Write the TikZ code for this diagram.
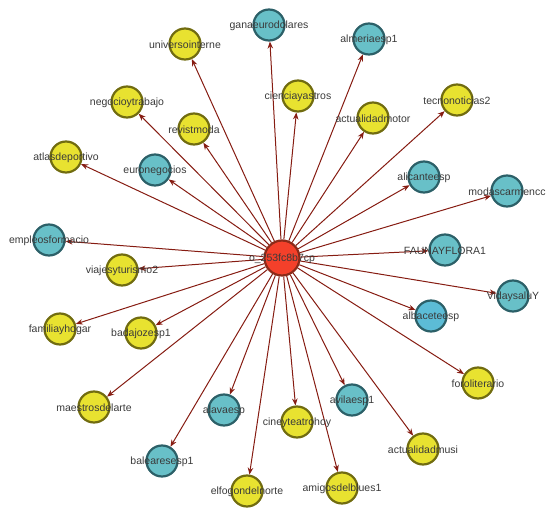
\documentclass[tikz,border=0pt]{standalone}
\usepackage{fontspec}
\setmainfont{Liberation Sans}
\usetikzlibrary{arrows.meta}
\pgfdeclarelayer{background}
\pgfsetlayers{background,main}
\definecolor{yfill}{HTML}{E8E230}
\definecolor{ydraw}{HTML}{716C10}
\definecolor{tfill}{HTML}{68C0C8}
\definecolor{tdraw}{HTML}{2C6068}
\definecolor{bfill}{HTML}{5CBCD6}
\definecolor{rfill}{HTML}{F4402A}
\definecolor{rdraw}{HTML}{8C2A18}
\definecolor{edgec}{HTML}{861C12}
\definecolor{textc}{HTML}{3A3A3A}
\tikzset{
  x=1pt,y=-1pt,
  nd/.style={circle,minimum size=31pt,inner sep=0pt,line width=2.2pt},
  yel/.style={nd,fill=yfill,draw=ydraw},
  teal/.style={nd,fill=tfill,draw=tdraw},
  blu/.style={nd,fill=bfill,draw=tdraw},
  hub/.style={circle,minimum size=35pt,inner sep=0pt,line width=2.2pt,fill=rfill,draw=rdraw},
  lab/.style={text=textc,font=\fontsize{10.5}{12}\selectfont,inner sep=0pt,yshift=-1pt},
  edge/.style={draw=edgec,line width=1pt,-{Stealth[length=7pt,width=5.5pt]}}
}
\newcommand{\nd}[4]{\node[#1,label={[lab]center:#4}] (#2) at #3 {};}
\begin{document}
\begin{tikzpicture}
\useasboundingbox (0,0) rectangle (558,511);
\nd{hub}{c}{(282,258)}{o\_253fc8b7cp}
\nd{teal}{n1}{(269,25)}{ganaeurodolares}
\nd{teal}{n2}{(369,39)}{almeriaesp1}
\nd{yel}{n3}{(185,44)}{universointerne}
\nd{yel}{n4}{(298,96)}{cienciayastros}
\nd{yel}{n5}{(373,118)}{actualidadmotor}
\nd{yel}{n6}{(457,100)}{tecnonoticias2}
\nd{teal}{n7}{(424,177)}{alicanteesp}
\nd{teal}{n8}{(507,191)}{modascarmencc}
\nd{yel}{n9}{(127,102)}{negocioytrabajo}
\nd{yel}{n10}{(194,129)}{revistmoda}
\nd{yel}{n11}{(66,157)}{atlasdeportivo}
\nd{teal}{n12}{(155,170)}{euronegocios}
\nd{teal}{n13}{(49,240)}{empleosformacio}
\nd{yel}{n14}{(122,270)}{viajesyturismo2}
\nd{yel}{n15}{(60,329)}{familiayhogar}
\nd{yel}{n16}{(141,333)}{badajozesp1}
\nd{teal}{n17}{(445,250)}{FAUNAYFLORA1}
\nd{teal}{n18}{(513,296)}{VidaysaluY}
\nd{blu}{n19}{(431,316)}{albaceteesp}
\nd{yel}{n20}{(478,383)}{foroliterario}
\nd{yel}{n21}{(94,407)}{maestrosdelarte}
\nd{teal}{n22}{(224,410)}{alavaesp}
\nd{teal}{n23}{(352,400)}{avilaesp1}
\nd{yel}{n24}{(297,422)}{cineyteatrohoy}
\nd{yel}{n25}{(423,449)}{actualidadmusi}
\nd{teal}{n26}{(162,461)}{balearesesp1}
\nd{yel}{n27}{(247,491)}{elfogondelnorte}
\nd{yel}{n28}{(342,488)}{amigosdelblues1}
\begin{pgfonlayer}{background}
\foreach \i in {1,...,28} \draw[edge] (c) -- (n\i);
\end{pgfonlayer}
\end{tikzpicture}
\end{document}
